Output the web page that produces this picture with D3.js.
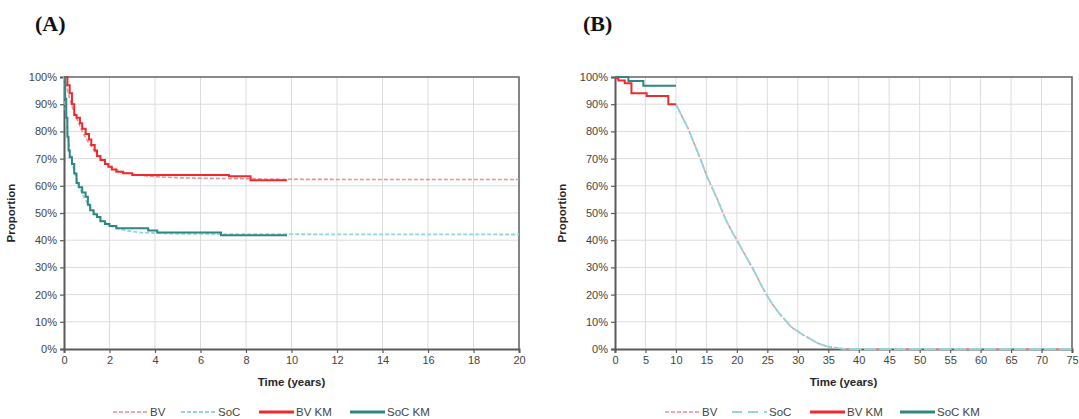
<!DOCTYPE html>
<html>
<head>
<meta charset="utf-8">
<script src="https://cdn.jsdelivr.net/npm/d3@7"></script>
<style>
  body { margin: 0; background: #fff; }
  svg { font-family: "Liberation Sans", Arial, sans-serif; }
</style>
</head>
<body>
<svg id="chart" width="1079" height="419"></svg>
<script>
// ---- data: [time in years, proportion in %] ----
const aBvFit = [[0,100],[0.1,97],[0.25,92],[0.5,86],[0.75,81],[1,77],[1.25,74],[1.5,71],[1.75,69],[2,67.3],[2.5,65.3],[3,64.3],[4,63.4],[5,63],[6,62.8],[8,62.6],[10,62.4],[15,62.3],[20,62.3]];
const aSocFit = [[0,100],[0.1,84],[0.2,76],[0.3,71],[0.5,64],[0.75,58],[1,54],[1.25,51],[1.5,48.5],[2,45.5],[2.5,44],[3,43.2],[4,42.6],[6,42.3],[10,42.2],[20,42.1]];
const aBvKm = [[0,100],[0.15,97],[0.25,94],[0.35,90],[0.45,86],[0.55,85],[0.7,83],[0.8,81],[0.95,79],[1.1,77],[1.2,75],[1.35,73],[1.45,71],[1.6,69.5],[1.8,68],[1.95,67],[2.1,66],[2.3,65.2],[2.6,64.6],[3.0,64],[7.25,63.5],[8.2,62],[9.8,62]];
const aSocKm = [[0,100],[0.05,92],[0.1,85],[0.15,78],[0.2,73],[0.25,70.5],[0.35,68],[0.45,64.5],[0.55,61],[0.65,59.5],[0.8,57.5],[0.95,56],[1.05,53],[1.15,51],[1.3,49.5],[1.45,48.5],[1.6,47],[1.8,46],[2.0,45.2],[2.3,44.4],[3.7,43.6],[4.1,42.8],[6.9,41.8],[9.8,41.8]];

const bBvFit = [[10,90],[11,85.5],[12,81],[13,75.5],[14,70],[15,64],[16,59],[17,54],[18,48.5],[19,44],[20,40],[21,36],[22,32],[23,28],[24,23.5],[25,19.5],[26,16],[27,13],[28,10.5],[29,8],[30,6.5],[31,5],[32,3.8],[33,2.5],[34,1.5],[35,0.9],[36,0.5],[37,0.2],[38,0],[75,0]];
const bSocFit = [[10,90],[11,85.5],[12,81],[13,75.5],[14,70],[15,64],[16,59],[17,54],[18,48.5],[19,44],[20,40],[21,36],[22,32],[23,28],[24,23.5],[25,19.5],[26,16],[27,13],[28,10.5],[29,8],[30,6.5],[31,5],[32,3.8],[33,2.5],[34,1.5],[35,0.9],[36,0.5],[37,0.2],[38,0],[75,0]];
const bBvKm = [[0,99.5],[0.55,98.7],[1.6,97.7],[2.7,94],[5.2,93],[8.75,90],[10,90]];
const bSocKm = [[0,100],[2.2,98.5],[4.65,96.8],[10,96.8]];

const aXTicks = [0, 2, 4, 6, 8, 10, 12, 14, 16, 18, 20];
const bXTicks = [0, 5, 10, 15, 20, 25, 30, 35, 40, 45, 50, 55, 60, 65, 70, 75];
const yTicks = [0, 10, 20, 30, 40, 50, 60, 70, 80, 90, 100];
const seriesNames = ['BV', 'SoC', 'BV KM', 'SoC KM'];

const colors = { bvFit: '#f28d8f', socFit: '#93d5d9', bvKm: '#ee2a2e', socKm: '#2f8782' };

const svg = d3.select('#chart');

const drawPanel = (p) => {
  const x = d3.scaleLinear().domain([0, p.xMax]).range([p.left, p.right]);
  const y = d3.scaleLinear().domain([0, 100]).range([349, 77]);
  const g = svg.append('g');

  // grid
  g.append('g')
    .selectAll('line.v')
    .data(p.xTicks.slice(1))
    .enter()
    .append('line')
    .attr('x1', (d) => x(d)).attr('x2', (d) => x(d))
    .attr('y1', y(0)).attr('y2', y(100))
    .style('stroke', '#dcdcdc').style('stroke-width', 1);
  g.append('g')
    .selectAll('line.h')
    .data(yTicks.slice(1))
    .enter()
    .append('line')
    .attr('x1', x(0)).attr('x2', x(p.xMax))
    .attr('y1', (d) => y(d)).attr('y2', (d) => y(d))
    .style('stroke', '#dcdcdc').style('stroke-width', 1);

  // frame top / right
  g.append('path')
    .attr('d', `M${x(0)},${y(100)}H${x(p.xMax)}V${y(0)}`)
    .style('fill', 'none').style('stroke', '#6a6a6a').style('stroke-width', 1.6);

  // axes
  const xAxis = g.append('g')
    .attr('transform', `translate(0,${y(0)})`)
    .call(d3.axisBottom(x).tickValues(p.xTicks).tickSize(4).tickPadding(3).tickFormat(d3.format('d')));
  const yAxis = g.append('g')
    .attr('transform', `translate(${x(0)},0)`)
    .call(d3.axisLeft(y).tickValues(yTicks).tickSize(4).tickPadding(3).tickFormat((d) => d + '%'));
  [xAxis, yAxis].forEach((a) => {
    a.select('.domain').style('stroke', '#5a5a5a').style('stroke-width', 2);
    a.selectAll('.tick line').style('stroke', '#5a5a5a').style('stroke-width', 1.2);
    a.selectAll('.tick text').style('fill', '#444').style('font-size', '11px');
  });

  // lines
  const smooth = d3.line().x((d) => x(d[0])).y((d) => y(d[1])).curve(d3.curveMonotoneX);
  const step = d3.line().x((d) => x(d[0])).y((d) => y(d[1])).curve(d3.curveStepAfter);

  g.append('path').datum(p.bvFit).attr('d', smooth)
    .style('fill', 'none').style('stroke', colors.bvFit).style('stroke-width', 1.6)
    .style('stroke-dasharray', p.bvDash);
  g.append('path').datum(p.socFit).attr('d', smooth)
    .style('fill', 'none').style('stroke', colors.socFit).style('stroke-width', 1.8)
    .style('stroke-dasharray', p.socDash);
  g.append('path').datum(p.bvKm).attr('d', step)
    .style('fill', 'none').style('stroke', colors.bvKm).style('stroke-width', 2);
  g.append('path').datum(p.socKm).attr('d', step)
    .style('fill', 'none').style('stroke', colors.socKm).style('stroke-width', 2);

  // titles
  g.append('text')
    .attr('x', (p.left + p.right) / 2).attr('y', 386)
    .attr('text-anchor', 'middle')
    .style('font-size', '11.5px').style('font-weight', 'bold').style('fill', '#262626')
    .text('Time (years)');
  g.append('text')
    .attr('transform', `translate(${p.left - 49},${y(50)}) rotate(-90)`)
    .attr('text-anchor', 'middle')
    .style('font-size', '11.5px').style('font-weight', 'bold').style('fill', '#262626')
    .text('Proportion');
  svg.append('text')
    .attr('x', p.labelX).attr('y', 31)
    .style('font-family', '"Liberation Serif", "Times New Roman", serif')
    .style('font-size', '22px').style('font-weight', 'bold').style('fill', '#111')
    .text(p.label);

  // legend
  const styles = [
    { c: colors.bvFit, w: 1.6, dash: p.bvDash },
    { c: colors.socFit, w: 1.8, dash: p.socLegendDash },
    { c: colors.bvKm, w: 3, dash: null },
    { c: colors.socKm, w: 3, dash: null }
  ];
  const leg = g.append('g').selectAll('g')
    .data(seriesNames)
    .enter()
    .append('g')
    .attr('transform', (d, i) => `translate(${p.legendX[i]},412)`);
  leg.append('line')
    .attr('x1', 0).attr('x2', 35).attr('y1', 0).attr('y2', 0)
    .style('stroke', (d, i) => styles[i].c)
    .style('stroke-width', (d, i) => styles[i].w)
    .style('stroke-dasharray', (d, i) => styles[i].dash);
  leg.append('text')
    .attr('x', 37).attr('y', 4)
    .style('font-size', '11.5px').style('fill', '#444')
    .text((d) => d);
};

drawPanel({
  label: '(A)', labelX: 35, left: 64, right: 519, xMax: 20, xTicks: aXTicks,
  bvFit: aBvFit, socFit: aSocFit, bvKm: aBvKm, socKm: aSocKm,
  bvDash: '4,2', socDash: '4,2', socLegendDash: '4,2',
  legendX: [113, 181, 259, 350]
});

drawPanel({
  label: '(B)', labelX: 583, left: 615, right: 1072, xMax: 75, xTicks: bXTicks,
  bvFit: bBvFit, socFit: bSocFit, bvKm: bBvKm, socKm: bSocKm,
  bvDash: '4,2', socDash: '12,3', socLegendDash: '10,6',
  legendX: [665, 732, 810, 900]
});
</script>
</body>
</html>
